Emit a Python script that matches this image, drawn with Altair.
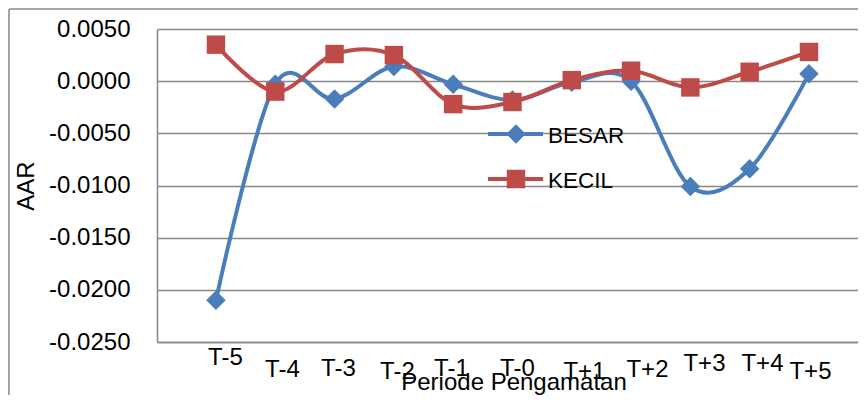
import altair as alt
import pandas as pd

# ---- data ----
periods = ["T-5", "T-4", "T-3", "T-2", "T-1", "T-0", "T+1", "T+2", "T+3", "T+4", "T+5"]
besar = [-0.0210, -0.0003, -0.0017, 0.0014, -0.0003, -0.0018, -0.0001, 0.0000, -0.0101, -0.0084, 0.0007]
kecil = [0.0035, -0.0010, 0.0026, 0.0025, -0.0022, -0.0020, 0.0001, 0.0010, -0.0006, 0.0009, 0.0028]
series_names = ["BESAR", "KECIL"]
y_ticks = [0.005, 0.0, -0.005, -0.010, -0.015, -0.020, -0.025]

colors = ["#4A7EBB", "#BE4B48"]
shapes = ["diamond", "square"]
sizes = [380, 340]

rows = []
for name, vals in zip(series_names, [besar, kecil]):
    for p, v in zip(periods, vals):
        rows.append({"period": p, "value": v, "series": name})
df = pd.DataFrame(rows)

GRID = "#878787"
NARROW = "Liberation Sans Narrow, Arial Narrow, Liberation Sans, Arial"
REG = "Liberation Sans, Arial"

W, H = 701, 313

pad_list = "[15,27.5,26.5,29,26.5,26.5,29.5,27.5,21.5,21.5,29.5]"
off_list = "[9,6.7,3.4,3.1,-2.2,4.5,12.2,15.9,13.6,12.3,1]"
idx = "indexof(" + str(periods).replace('"', "'") + ", datum.value)"

x_enc = alt.X(
    "period:N",
    sort=periods,
    scale=alt.Scale(type="point", padding=0.9106, align=0.546),
    axis=alt.Axis(
        title="Periode Pengamatan",
        labelAngle=0,
        ticks=False,
        tickSize=0,
        grid=False,
        domain=True,
        domainColor=GRID,
        domainWidth=1.5,
        labelFont=NARROW,
        labelFontSize=24,
        labelColor="black",
        labelBaseline="middle",
        labelAlign="center",
        labelOverlap=False,
        labelPadding={"expr": pad_list + "[" + idx + "]"},
        labelOffset={"expr": off_list + "[" + idx + "]"},
        titleFont=REG,
        titleFontSize=24,
        titleFontWeight="normal",
        titleColor="black",
        titleX=356.5,
        titleY=47,
        titleAlign="center",
        titleBaseline="alphabetic",
    ),
)

y_enc = alt.Y(
    "value:Q",
    scale=alt.Scale(domain=[-0.025, 0.005], nice=False, zero=False),
    axis=alt.Axis(
        values=y_ticks,
        labelExpr="replace(format(datum.value, '.4f'), '\u2212', '-')",
        title="AAR",
        ticks=False,
        tickSize=0,
        grid=True,
        gridColor=GRID,
        gridWidth=1.5,
        domain=True,
        domainColor=GRID,
        domainWidth=1.5,
        labelFont=REG,
        labelFontSize=24,
        labelColor="black",
        labelPadding=27,
        labelBaseline="middle",
        labelOverlap=False,
        titleFont=NARROW,
        titleFontSize=24,
        titleFontWeight="normal",
        titleColor="black",
        titleAngle=270,
        titleX=-131,
        titleY=156.5,
        titleAlign="center",
        titleBaseline="middle",
    ),
)

layers = []
for i, name in enumerate(series_names):
    sub = alt.Chart(df).transform_filter(alt.datum.series == name)
    layers.append(
        sub.mark_line(interpolate="cardinal", tension=0, strokeWidth=4, color=colors[i]).encode(
            x=x_enc, y=y_enc
        )
    )
    layers.append(
        sub.mark_point(filled=True, opacity=1, shape=shapes[i], size=sizes[i], color=colors[i]).encode(
            x=x_enc, y=y_enc
        )
    )

# ---- legend (drawn inside the plot, as in the reference) ----
leg_y = [106.5, 151.5]
for i, name in enumerate(series_names):
    ld = pd.DataFrame({"series": [name]})
    lc = alt.Chart(ld)
    layers.append(
        lc.mark_rule(strokeWidth=4, color=colors[i]).encode(
            x=alt.value(331), x2=alt.value(386), y=alt.value(leg_y[i] - 1.5)
        )
    )
    layers.append(
        lc.mark_point(filled=True, opacity=1, shape=shapes[i], size=sizes[i], color=colors[i]).encode(
            x=alt.value(359), y=alt.value(leg_y[i] - 1.5)
        )
    )
    layers.append(
        lc.mark_text(font=NARROW, fontSize=22.5, align="left", baseline="middle", color="black").encode(
            x=alt.value(391), y=alt.value(leg_y[i]), text="series:N"
        )
    )

# ---- outer chart frame (left and top edges) ----
fd = pd.DataFrame({"series": ["frame"]})
layers.append(
    alt.Chart(fd).mark_rule(color=GRID, strokeWidth=1.5).encode(
        x=alt.value(-148), y=alt.value(-20), y2=alt.value(H + 53)
    )
)
layers.append(
    alt.Chart(fd).mark_rule(color=GRID, strokeWidth=1.5).encode(
        x=alt.value(-148), x2=alt.value(W), y=alt.value(-20)
    )
)

chart = (
    alt.layer(*layers)
    .properties(
        width=W,
        height=H,
        autosize=alt.AutoSizeParams(type="none"),
        padding={"left": 149, "top": 21, "right": 0, "bottom": 53},
        background="white",
    )
    .configure_view(strokeWidth=0)
)

chart.save("out.html", embed_options={"renderer": "svg", "actions": False})
